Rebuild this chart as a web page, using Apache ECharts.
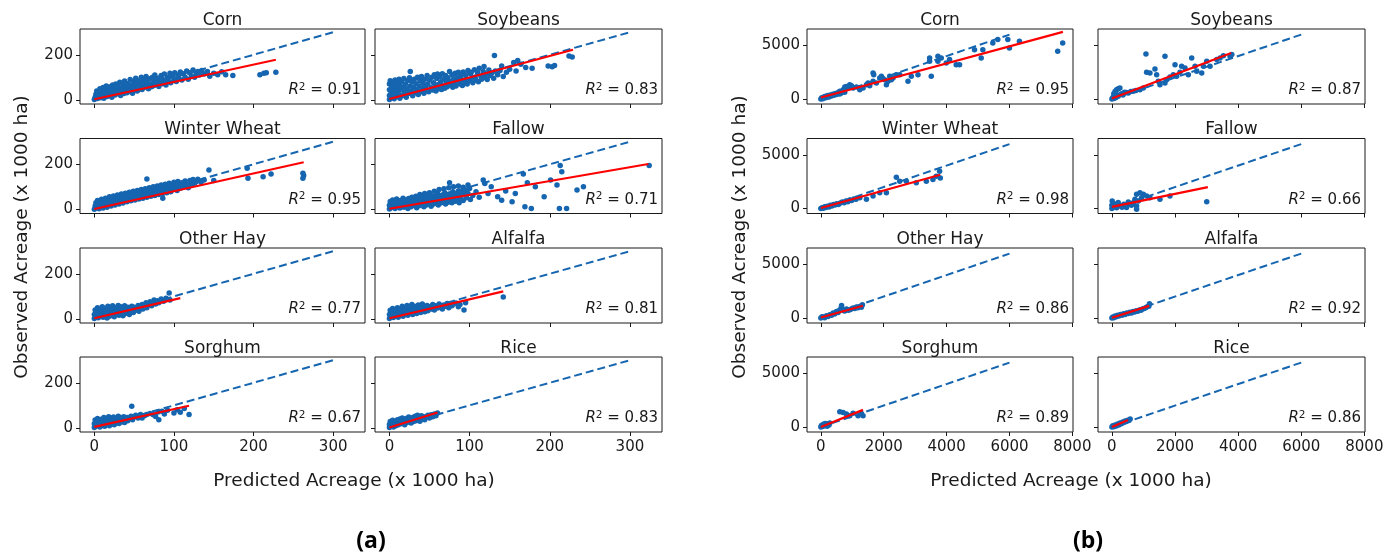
<!DOCTYPE html>
<html>
<head>
<meta charset="utf-8">
<script src="https://cdn.jsdelivr.net/npm/echarts@6/dist/echarts.min.js"></script>
<style>
  html, body { margin: 0; padding: 0; background: #fff; }
  #main { width: 1395px; height: 553px; }
</style>
</head>
<body>
<div id="main"></div>
<script>
// crop order: row by row, left then right
var cropNames = ['Corn', 'Soybeans', 'Winter Wheat', 'Fallow', 'Other Hay', 'Alfalfa', 'Sorghum', 'Rice'];
var r2A = ['0.91', '0.83', '0.95', '0.71', '0.77', '0.81', '0.67', '0.83'];
var r2B = ['0.95', '0.87', '0.98', '0.66', '0.86', '0.92', '0.89', '0.86'];

var xTicksA = [0, 100, 200, 300];
var yTicksA = [0, 200];
var xTicksB = [0, 2000, 4000, 6000, 8000];
var yTicksB = [0, 5000];

// 1:1 reference lines
var oneToOneA = [[0, 0], [300, 300]];
var oneToOneB = [[0, 0], [6000, 6000]];

// fitted regression lines (red)
var fitA = [
    [[0, 3], [228, 178]],
    [[0, 4], [229, 222]],
    [[0, 2], [263, 209]],
    [[0, 3], [323, 201]],
    [[0, 3], [108, 92]],
    [[0, 3], [142, 122]],
    [[0, 5], [119, 98]],
    [[0, 2], [60, 68]]
];
var fitB = [
    [[0, 150], [7700, 6250]],
    [[0, 50], [3780, 4290]],
    [[0, 50], [3800, 3150]],
    [[0, 150], [3040, 1990]],
    [[0, 50], [1340, 1150]],
    [[0, 30], [1180, 1130]],
    [[0, 0], [1340, 1600]],
    [[0, 0], [510, 650]]
];

// (a) county level points, x = predicted, y = observed (x 1000 ha)
var cornA = [[0,2],[1,12],[2,25],[3,40],[4,6],[5,30],[6,18],[7,50],[8,10],[9,35],
    [10,22],[11,55],[12,8],[13,42],[14,28],[15,62],[16,15],[17,48],[18,35],[19,20],
    [20,58],[21,40],[22,12],[23,66],[24,30],[25,50],[26,22],[27,70],[28,44],[29,28],
    [30,60],[31,36],[32,78],[33,20],[34,52],[35,40],[36,70],[37,28],[38,84],[39,55],
    [40,45],[41,32],[42,72],[43,60],[44,38],[45,90],[46,50],[47,66],[48,30],[49,80],
    [50,58],[51,44],[52,96],[53,70],[54,40],[55,85],[56,62],[57,50],[58,76],[59,100],
    [60,46],[61,68],[62,88],[63,56],[64,74],[65,104],[66,60],[67,82],[68,50],[69,94],
    [70,68],[72,58],[73,100],[74,78],[75,64],[76,110],[77,88],[78,70],[80,96],[81,60],
    [82,80],[84,108],[85,72],[86,90],[88,115],[89,78],[90,66],[92,100],[93,84],[95,118],
    [96,76],[98,106],[100,90],[101,120],[103,82],[105,110],[106,96],[108,124],[110,88],[112,116],
    [114,100],[116,128],[118,92],[120,120],[122,106],[124,132],[126,100],[128,118],[130,126],[132,110],
    [135,130],[138,115],[142,126],[145,105],[150,118],[155,112],[160,125],[165,112],[174,108],
    [208,112],[213,118],[216,120],[228,122]];
var soyA = [[0,2],[0,20],[0,45],[0,70],[1,85],[2,10],[2,35],[3,60],[3,80],[4,25],[5,50],[5,72],[6,5],[7,40],[7,88],
    [8,62],[9,18],[10,78],[10,48],[11,30],[12,92],[13,8],[13,65],[14,44],[15,82],[16,20],[17,56],[18,95],[19,35],
    [20,70],[21,12],[22,50],[23,86],[24,28],[25,98],[26,126],[26,62],[27,40],[28,80],[29,18],[30,55],[31,92],
    [32,32],[33,72],[34,45],[35,100],[36,24],[37,62],[38,85],[39,38],[40,104],[41,52],[42,74],[43,30],[44,92],
    [45,60],[46,42],[47,108],[48,70],[49,36],[50,88],[52,54],[53,100],[54,44],[55,76],[56,112],[57,60],[58,40],
    [59,95],[60,115],[61,68],[62,50],[63,104],[64,80],[65,46],[66,116],[67,62],[68,90],[69,52],[70,108],[71,72],
    [72,58],[73,98],[74,84],[75,126],[76,66],[78,112],[79,56],[80,92],[81,76],[82,118],[83,62],[84,100],[85,84],
    [86,122],[88,70],[89,106],[90,90],[91,64],[92,124],[94,80],[95,110],[96,94],[97,70],[98,130],[100,86],
    [101,116],[102,123],[103,98],[104,76],[106,134],[107,102],[108,88],[110,120],[111,80],[112,140],[114,106],
    [115,92],[117,126],[118,148],[119,100],[121,114],[122,90],[124,132],[126,108],[128,120],[130,96],[131,197],
    [132,128],[135,112],[138,130],[140,150],[142,104],[146,122],[150,136],[155,166],[158,128],[160,175],[164,158],
    [170,144],[178,140],[198,150],[203,147],[206,152],[224,194],[228,190]];
var wheatA = [[0,1],[1,15],[2,30],[3,8],[4,40],[5,20],[6,3],[7,34],[8,14],[9,45],[10,25],[11,6],[12,38],[13,18],
    [14,50],[15,30],[16,10],[17,44],[18,24],[19,56],[20,36],[21,15],[22,48],[23,28],[24,60],[25,40],[26,20],[27,52],
    [28,32],[29,64],[30,44],[31,24],[32,56],[33,38],[34,68],[35,48],[36,28],[37,60],[38,42],[39,72],[40,52],[41,34],
    [42,64],[43,46],[44,76],[45,56],[46,38],[47,68],[48,50],[49,80],[50,60],[51,42],[52,72],[53,54],[54,84],[55,64],
    [56,46],[57,76],[58,58],[59,88],[60,68],[61,50],[62,80],[63,62],[64,92],[65,72],[66,135],[66,54],[67,84],[68,66],
    [69,96],[70,76],[71,58],[72,88],[73,70],[74,100],[75,80],[76,62],[77,92],[78,74],[79,104],[80,84],[81,66],[82,96],
    [83,78],[84,108],[85,88],[86,49],[86,70],[87,100],[88,82],[89,112],[90,92],[91,74],[92,104],[93,86],[94,116],
    [95,96],[96,78],[98,108],[99,90],[100,120],[102,100],[104,84],[105,124],[106,108],[108,94],[110,118],[112,100],
    [114,126],[116,110],[118,96],[120,128],[122,112],[124,132],[126,116],[128,124],[130,134],[134,120],[138,130],
    [144,175],[150,128],[192,182],[193,138],[212,145],[222,157],[262,160],[263,150],[262,138]];
var fallowA = [[0,2],[0,18],[1,35],[2,8],[3,26],[4,42],[5,14],[6,30],[7,4],[8,22],[9,46],[10,12],[11,36],[12,24],
    [13,6],[14,40],[15,18],[16,30],[17,50],[18,10],[19,26],[20,42],[21,16],[22,34],[23,4],[24,48],[25,22],[26,38],
    [27,12],[28,54],[29,28],[30,44],[31,18],[32,36],[33,58],[34,8],[35,26],[36,46],[37,16],[38,34],[38,66],[39,52],
    [40,22],[41,40],[42,62],[43,12],[44,30],[44,70],[45,48],[46,20],[47,38],[48,56],[49,26],[50,44],[50,74],[51,66],
    [52,14],[53,34],[54,52],[55,24],[56,42],[56,80],[57,60],[58,30],[59,48],[60,70],[61,20],[62,38],[62,88],[63,56],
    [64,28],[65,46],[66,64],[67,34],[68,52],[68,92],[69,74],[70,24],[71,42],[72,60],[73,32],[74,50],[74,96],[75,118],
    [75,68],[76,38],[77,56],[78,30],[79,78],[80,46],[80,100],[81,64],[82,36],[83,54],[84,72],[85,44],[86,82],[86,104],
    [87,30],[88,60],[89,50],[90,76],[92,40],[92,98],[94,66],[95,86],[96,52],[98,70],[98,108],[100,93],[101,44],
    [104,62],[108,78],[112,54],[117,130],[119,115],[123,71],[127,100],[135,56],[140,41],[145,82],[153,34],[157,71],
    [167,157],[169,12],[172,118],[177,4],[182,100],[193,56],[201,130],[209,108],[212,4],[213,194],[215,167],[221,4],
    [234,86],[242,100],[324,194]];
var hayA = [[0,2],[0,20],[1,40],[2,10],[3,30],[4,50],[5,5],[6,22],[7,42],[8,14],[9,34],[10,54],[11,8],[12,26],
    [13,46],[14,18],[15,38],[16,4],[17,56],[18,28],[19,12],[20,48],[21,32],[22,20],[23,58],[24,40],[25,10],[26,30],
    [27,50],[28,22],[29,42],[30,60],[31,16],[32,36],[33,54],[34,26],[35,46],[36,14],[37,34],[38,58],[39,24],[40,44],
    [41,30],[42,52],[43,38],[44,20],[45,48],[46,32],[47,56],[48,40],[49,28],[50,52],[52,38],[54,46],[55,60],[56,34],
    [58,50],[60,64],[61,44],[63,56],[65,72],[66,50],[68,62],[70,76],[72,58],[74,70],[75,84],[77,66],[79,80],[81,72],
    [84,88],[87,78],[90,92],[94,115],[95,84]];
var alfalfaA = [[0,2],[0,20],[1,38],[2,10],[3,28],[4,46],[5,6],[6,22],[7,40],[8,14],[9,32],[10,50],[11,8],[12,26],
    [13,44],[14,18],[15,36],[16,56],[17,12],[18,30],[19,48],[20,22],[21,40],[22,60],[23,16],[24,34],[25,52],[26,26],
    [27,44],[28,64],[29,20],[30,38],[31,56],[32,30],[33,48],[34,24],[35,42],[36,62],[37,34],[38,52],[39,28],[40,46],
    [41,66],[42,38],[43,56],[44,32],[45,50],[46,40],[47,60],[48,36],[50,54],[52,44],[54,64],[56,40],[58,58],[60,48],
    [62,66],[64,52],[66,44],[68,62],[70,56],[72,68],[74,50],[76,62],[78,58],[80,66],[83,70],[86,54],[88,64],[93,40],
    [95,72],[142,97]];
var sorghumA = [[0,2],[0,18],[1,35],[2,8],[3,26],[4,42],[5,14],[6,30],[7,4],[8,20],[9,38],[10,12],[11,28],[12,46],
    [13,8],[14,22],[15,36],[16,16],[17,30],[18,50],[19,10],[20,26],[21,40],[22,18],[23,32],[24,48],[25,14],[26,28],
    [27,42],[28,22],[29,36],[30,52],[31,20],[32,34],[33,46],[34,26],[35,40],[36,30],[37,50],[38,24],[40,38],[41,46],
    [42,32],[44,42],[46,52],[47,96],[48,36],[50,48],[52,56],[55,44],[58,60],[60,44],[63,54],[66,59],[70,64],[74,58],
    [77,51],[80,70],[81,36],[85,74],[88,62],[92,78],[100,66],[104,80],[108,69],[113,86],[119,59]];
var riceA = [[0,2],[0,15],[1,28],[2,8],[3,20],[4,34],[5,4],[6,16],[7,28],[8,10],[9,22],[10,36],[11,14],[12,26],
    [13,40],[14,18],[15,30],[16,44],[17,22],[18,34],[19,14],[20,28],[21,42],[22,24],[23,36],[24,48],[25,30],[26,40],
    [27,22],[28,34],[29,46],[30,28],[31,40],[32,52],[33,32],[34,44],[35,56],[36,36],[37,48],[38,30],[39,42],[40,54],
    [42,40],[43,50],[44,36],[46,48],[48,56],[50,44],[52,58],[54,50],[56,62],[58,54],[60,66]];

// (b) state level points
var cornB = [[0,0],[30,120],[60,40],[90,200],[120,90],[150,260],[180,150],[220,320],[260,200],[300,380],[340,280],
    [380,450],[391,404],[420,350],[460,520],[497,498],[500,420],[550,600],[600,480],[603,715],[650,560],[700,700],
    [709,870],[760,640],[762,1120],[815,1180],[868,1026],[920,1340],[973,1244],[1026,1026],[1132,1120],[1238,870],
    [1344,1026],[1450,1340],[1502,1490],[1555,1244],[1661,1650],[1767,1490],[1661,2430],[1683,2270],[1873,1960],
    [1926,2115],[2032,1800],[2085,1340],[2137,1650],[2190,2115],[2243,1800],[2296,1960],[2402,2270],[2508,2270],
    [2772,1650],[2878,2115],[3090,2270],[3512,2115],[3460,3830],[3460,3515],[3724,3980],[3830,3830],[3724,3515],
    [3988,3360],[4094,3670],[4306,3200],[4412,3200],[4888,4600],[5152,4600],[5100,3830],[5470,5220],[5629,5540],
    [5946,5540],[5998,4760],[6316,5380],[7533,4450],[7692,5220]];
var soyB = [[0,0],[30,150],[60,60],[60,500],[90,280],[100,700],[120,120],[148,870],[160,400],[200,250],[200,950],
    [254,1026],[300,500],[350,380],[400,640],[465,620],[520,560],[600,700],[677,715],[760,800],[889,870],[995,1026],
    [1079,4200],[1100,2490],[1206,2430],[1365,2800],[1418,2270],[1470,1650],[1523,1340],[1682,1490],[1682,3980],
    [1735,1800],[1840,2050],[1947,2270],[2000,3200],[2053,2115],[2158,2490],[2210,3050],[2317,2890],[2423,2270],
    [2529,3830],[2635,3050],[2688,2580],[2846,2430],[2900,3050],[3005,3515],[3110,3050],[3322,3670],[3428,3830],
    [3534,4040],[3745,3980],[3800,4140]];
var wheatB = [[0,0],[40,80],[80,30],[120,160],[160,100],[200,220],[260,150],[300,300],[350,240],[400,380],[450,320],
    [500,440],[560,380],[620,520],[680,600],[740,540],[800,700],[860,640],[920,800],[980,760],[1050,900],[1120,860],
    [1240,1000],[1450,860],[1660,1165],[1873,1470],[2085,1470],[2402,2915],[2508,2545],[2720,2545],[3036,2392],
    [3355,2545],[3565,2700],[3670,3000],[3777,3465],[3800,2850]];
var fallowB = [[0,0],[0,300],[10,706],[60,150],[100,420],[150,80],[200,560],[260,250],[320,120],[380,400],[440,200],
    [465,92],[520,600],[570,400],[620,300],[677,552],[730,860],[783,245],[783,-60],[783,1320],[840,700],[889,1470],
    [942,1010],[995,1320],[1100,1165],[1206,1010],[1523,860],[1840,1165],[3005,645]];
var hayB = [[0,0],[40,120],[74,93],[120,40],[180,216],[230,150],[286,309],[340,250],[391,463],[440,380],[497,617],
    [550,520],[603,772],[656,1018],[660,1170],[709,710],[760,650],[815,833],[870,720],[920,772],[970,850],[1026,926],
    [1080,880],[1132,1018],[1180,960],[1238,1080],[1290,1000],[1322,1234]];
var alfalfaB = [[0,0],[30,100],[60,40],[100,180],[140,120],[180,260],[220,200],[270,320],[320,260],[370,400],[420,340],
    [470,460],[520,420],[570,540],[620,480],[670,600],[720,560],[770,680],[820,640],[870,760],[920,720],[970,850],
    [1020,900],[1070,960],[1120,1050],[1170,1100],[1190,1330]];
var sorghumB = [[0,0],[20,150],[50,60],[80,250],[110,120],[140,320],[170,200],[200,80],[230,300],[260,180],[285,370],
    [603,1420],[709,1358],[815,1204],[920,1049],[1026,1296],[1185,1049],[1290,1265],[1343,1049]];
var riceB = [[0,0],[30,120],[60,40],[100,200],[140,110],[180,280],[220,200],[260,380],[300,300],[340,480],[380,420],
    [420,560],[460,520],[500,640],[540,600],[580,740]];

var pointsA = [cornA, soyA, wheatA, fallowA, hayA, alfalfaA, sorghumA, riceA];
var pointsB = [cornB, soyB, wheatB, fallowB, hayB, alfalfaB, sorghumB, riceB];

var FONT = 'DejaVu Sans';
var INK = '#1a1a1a';
var BLUE = '#1565b0';

var rowTop = [29, 138.5, 248, 357];
var rowH = 75;

var panels = [
    {
        colLeft: [80, 375], colWidth: [285, 287],
        xMin: -18, xMax: 340, yMin: -18, yMax: 314,
        xTicks: xTicksA, yTicks: yTicksA,
        points: pointsA, fit: fitA, ref: oneToOneA, r2: r2A,
        xLabelX: 354, yLabelX: 22, tag: '(a)', tagX: 371
    },
    {
        colLeft: [807, 1098], colWidth: [266, 267],
        xMin: -440, xMax: 8020, yMin: -460, yMax: 6520,
        xTicks: xTicksB, yTicks: yTicksB,
        points: pointsB, fit: fitB, ref: oneToOneB, r2: r2B,
        xLabelX: 1071, yLabelX: 740, tag: '(b)', tagX: 1088
    }
];

function plainNumber(v) {
    return String(v);
}

var grid = [], xAxis = [], yAxis = [], series = [], graphic = [];

panels.forEach(function (p) {
    for (var i = 0; i < cropNames.length; i++) {
        var row = Math.floor(i / 2), col = i % 2;
        var idx = grid.length;
        var left = p.colLeft[col], top = rowTop[row], w = p.colWidth[col];
        grid.push({
            left: left, top: top, width: w, height: rowH,
            show: true, borderColor: INK, borderWidth: 1, backgroundColor: 'transparent'
        });
        xAxis.push({
            gridIndex: idx, type: 'value', min: p.xMin, max: p.xMax, position: 'bottom',
            axisLine: {show: false, onZero: false}, splitLine: {show: false},
            axisTick: {show: true, customValues: p.xTicks, length: 4, lineStyle: {color: INK}},
            axisLabel: {show: row === 3, customValues: p.xTicks, formatter: plainNumber,
                fontSize: 15, fontFamily: FONT, color: INK, margin: 8}
        });
        yAxis.push({
            gridIndex: idx, type: 'value', min: p.yMin, max: p.yMax, position: 'left',
            axisLine: {show: false, onZero: false}, splitLine: {show: false},
            axisTick: {show: true, customValues: p.yTicks, length: 4, lineStyle: {color: INK}},
            axisLabel: {show: col === 0, customValues: p.yTicks, formatter: plainNumber,
                fontSize: 15, fontFamily: FONT, color: INK, margin: 7}
        });
        series.push({
            type: 'scatter', xAxisIndex: idx, yAxisIndex: idx, data: p.points[i],
            symbolSize: 5.5, itemStyle: {color: BLUE, opacity: 1}, silent: true, z: 2
        });
        series.push({
            type: 'line', xAxisIndex: idx, yAxisIndex: idx, data: p.ref, symbol: 'none',
            lineStyle: {color: BLUE, width: 2, type: [8, 4]}, silent: true, z: 3
        });
        series.push({
            type: 'line', xAxisIndex: idx, yAxisIndex: idx, data: p.fit[i], symbol: 'none',
            lineStyle: {color: '#ff0000', width: 2.2}, silent: true, z: 4
        });
        // subplot title
        graphic.push({
            type: 'text', x: left + w / 2, y: top - 8.5,
            style: {text: cropNames[i], font: '17px "' + FONT + '"', fill: INK, textAlign: 'center', textVerticalAlign: 'middle'}
        });
        // R^2 annotation
        graphic.push({
            type: 'text', x: left + w - 4, y: top + rowH - 13.5,
            style: {
                text: '{r|R}{s|2} = ' + p.r2[i],
                font: '15px "' + FONT + '"', fill: INK, textAlign: 'right', textVerticalAlign: 'middle',
                rich: {
                    r: {fontStyle: 'italic', fontSize: 15, fontFamily: FONT, fill: INK},
                    s: {fontSize: 10.5, fontFamily: FONT, fill: INK, padding: [0, 0, 7, 0]}
                }
            }
        });
    }
    graphic.push({
        type: 'text', x: p.xLabelX, y: 481,
        style: {text: 'Predicted Acreage (x 1000 ha)', font: '18.5px "' + FONT + '"', fill: INK, textAlign: 'center', textVerticalAlign: 'middle'}
    });
    graphic.push({
        type: 'text', x: p.yLabelX, y: 237, rotation: Math.PI / 2,
        style: {text: 'Observed Acreage (x 1000 ha)', font: '18.5px "' + FONT + '"', fill: INK, textAlign: 'center', textVerticalAlign: 'middle'}
    });
    graphic.push({
        type: 'text', x: p.tagX, y: 541,
        style: {text: p.tag, font: 'bold 23px "Open Sans"', fill: '#000', textAlign: 'center', textVerticalAlign: 'middle'}
    });
});

var chart = echarts.init(document.getElementById('main'), null, {renderer: 'canvas'});
chart.setOption({
    animation: false,
    backgroundColor: '#fff',
    grid: grid,
    xAxis: xAxis,
    yAxis: yAxis,
    series: series,
    graphic: graphic
});
</script>
</body>
</html>
